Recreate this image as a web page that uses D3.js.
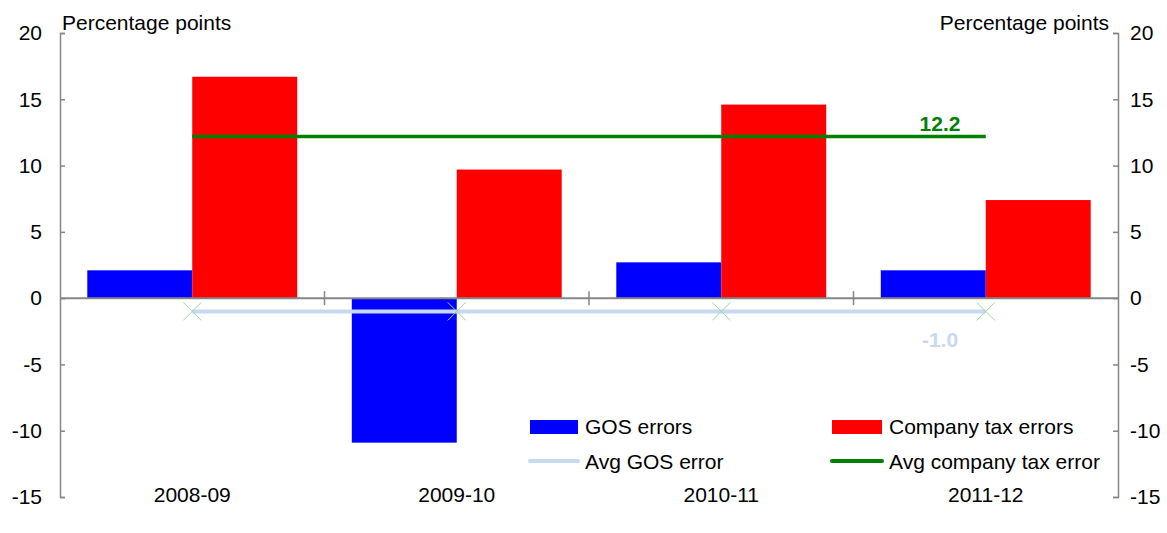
<!DOCTYPE html>
<html><head><meta charset="utf-8">
<script src="https://cdn.jsdelivr.net/npm/d3@7"></script>
<style>body{margin:0;background:#fff}svg{display:block;font-family:"Liberation Sans",Arial,sans-serif}</style>
</head><body><svg id="c" width="1167" height="533"></svg>
<script>
const categories = ["2008-09","2009-10","2010-11","2011-12"];
const gosErrors = [2.1, -10.9, 2.7, 2.1];
const taxErrors = [16.7, 9.7, 14.6, 7.4];
const avgGos = [-1.0, -1.0, -1.0, -1.0];
const avgTax = [12.2, 12.2, 12.2, 12.2];
const yTicks = [20, 15, 10, 5, 0, -5, -10, -15];

const svg = d3.select("#c");
const L = 60, R = 1118, T = 33, B = 497;
const FS = 21;
const x = d3.scaleBand().domain(categories).range([L, R]).paddingInner(0).paddingOuter(0);
const y = d3.scaleLinear().domain([-15, 20]).range([B, T]);
const sub = d3.scaleBand().domain(["gos","tax"]).range([0, x.bandwidth()]).paddingOuter(0.26).paddingInner(0);
const axisCol = "#868686";

// bars
const g = svg.append("g");
categories.forEach((c, i) => {
  [["gos", gosErrors[i], "#0000ff"], ["tax", taxErrors[i], "#ff0000"]].forEach(([k, v, col]) => {
    g.append("rect")
      .attr("x", x(c) + sub(k))
      .attr("width", sub.bandwidth())
      .attr("y", y(Math.max(0, v)))
      .attr("height", Math.abs(y(v) - y(0)))
      .attr("fill", col);
  });
});

// zero line with category ticks
svg.append("line").attr("x1", L).attr("x2", R).attr("y1", y(0)).attr("y2", y(0))
  .attr("stroke", axisCol).attr("stroke-width", 2);
categories.slice(1).forEach(c => {
  svg.append("line").attr("x1", x(c)).attr("x2", x(c)).attr("y1", y(0) - 7).attr("y2", y(0) + 7)
    .attr("stroke", axisCol).attr("stroke-width", 1.5);
});

// axes
const yl = svg.append("g").attr("transform", `translate(${L},0)`)
  .call(d3.axisRight(y).tickValues(yTicks).tickSize(5).tickFormat(""));
const yr = svg.append("g").attr("transform", `translate(${R},0)`)
  .call(d3.axisLeft(y).tickValues(yTicks).tickSize(5).tickFormat(""));
[yl, yr].forEach(a => {
  a.select(".domain").attr("stroke", axisCol).attr("stroke-width", 1.5);
  a.selectAll(".tick line").attr("stroke", axisCol).attr("stroke-width", 1.5);
});
yTicks.forEach(t => {
  svg.append("text").attr("x", 42).attr("y", y(t)).attr("dy", "0.35em").attr("text-anchor", "end")
    .attr("font-size", FS).text(t);
  svg.append("text").attr("x", 1130).attr("y", y(t)).attr("dy", "0.35em").attr("text-anchor", "start")
    .attr("font-size", FS).text(t);
});
svg.append("text").attr("x", 62).attr("y", 30).attr("font-size", FS).text("Percentage points");
svg.append("text").attr("x", 1109).attr("y", 30).attr("font-size", FS).attr("text-anchor", "end").text("Percentage points");

// category labels
categories.forEach(c => {
  svg.append("text").attr("x", x(c) + x.bandwidth() / 2).attr("y", 502).attr("text-anchor", "middle")
    .attr("font-size", FS).text(c);
});

// average lines
const cx = c => x(c) + x.bandwidth() / 2;
const line = d3.line().x((d, i) => cx(categories[i])).y(d => y(d));
svg.append("path").datum(avgGos).attr("d", line).attr("fill", "none").attr("stroke", "#c6d9f1").attr("stroke-width", 4);
avgGos.forEach((v, i) => {
  const px = cx(categories[i]), py = y(v);
  svg.append("path").attr("d", `M${px-9},${py-9}L${px+9},${py+9}M${px-9},${py+9}L${px+9},${py-9}`)
    .attr("stroke", "#9fd39f").attr("stroke-width", 1).attr("fill", "none");
});
svg.append("path").datum(avgTax).attr("d", line).attr("fill", "none").attr("stroke", "#008000").attr("stroke-width", 3.5);

svg.append("text").attr("x", 940).attr("y", 131).attr("text-anchor", "middle").attr("font-size", FS)
  .attr("font-weight", "bold").attr("fill", "#008000").text(avgTax[3].toFixed(1));
svg.append("text").attr("x", 940).attr("y", 347).attr("text-anchor", "middle").attr("font-size", FS)
  .attr("font-weight", "bold").attr("fill", "#c6d9f1").text(avgGos[3].toFixed(1));

// legend
const leg = svg.append("g");
leg.append("rect").attr("x", 530).attr("y", 420).attr("width", 48).attr("height", 14).attr("fill", "#0000ff");
leg.append("text").attr("x", 585).attr("y", 434).attr("font-size", FS).text("GOS errors");
leg.append("rect").attr("x", 832).attr("y", 420).attr("width", 50).attr("height", 14).attr("fill", "#ff0000");
leg.append("text").attr("x", 889).attr("y", 434).attr("font-size", FS).text("Company tax errors");
leg.append("line").attr("x1", 530).attr("x2", 578).attr("y1", 461).attr("y2", 461).attr("stroke", "#c6d9f1").attr("stroke-width", 4).attr("stroke-linecap", "round");
leg.append("text").attr("x", 585).attr("y", 469).attr("font-size", FS).text("Avg GOS error");
leg.append("line").attr("x1", 832).attr("x2", 882).attr("y1", 461).attr("y2", 461).attr("stroke", "#008000").attr("stroke-width", 4).attr("stroke-linecap", "round");
leg.append("text").attr("x", 889).attr("y", 469).attr("font-size", FS).text("Avg company tax error");
</script></body></html>
